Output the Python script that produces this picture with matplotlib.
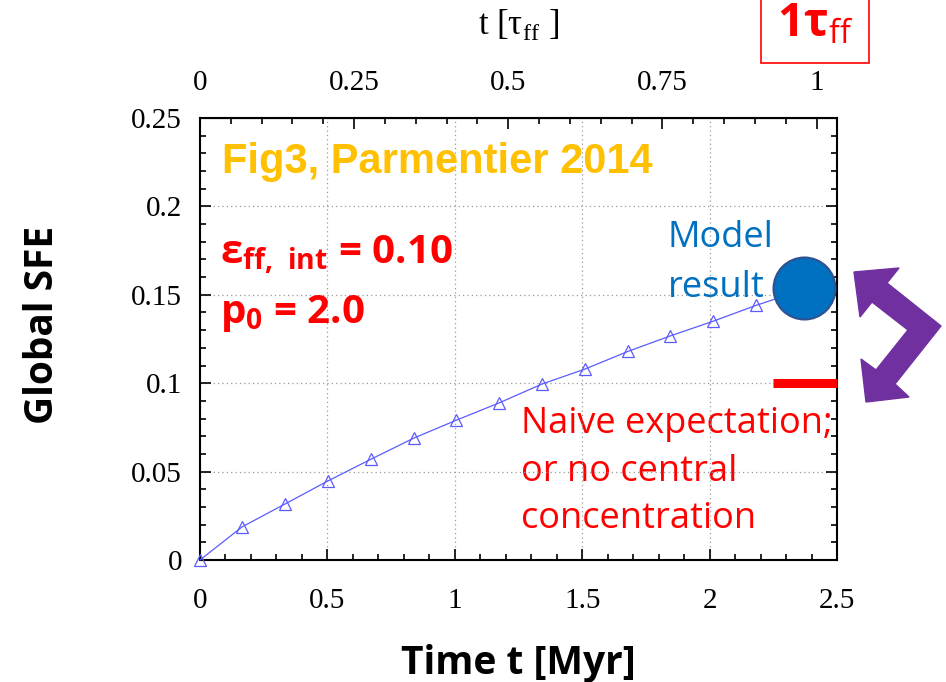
import matplotlib.pyplot as plt
from matplotlib.patches import Polygon
from matplotlib.ticker import MultipleLocator

plt.rcParams['mathtext.fontset'] = 'custom'
plt.rcParams['mathtext.rm'] = 'Liberation Serif'
plt.rcParams['mathtext.sf'] = 'Open Sans'
plt.rcParams['mathtext.bf'] = 'Open Sans:bold'

# data
time_myr = [0.0, 0.165, 0.334, 0.502, 0.671, 0.84, 1.005, 1.173, 1.342, 1.511,
            1.68, 1.845, 2.013, 2.182, 2.35]
global_sfe = [0.0, 0.0187, 0.0317, 0.0447, 0.057, 0.069, 0.079, 0.0888, 0.0995,
              0.108, 0.118, 0.1267, 0.135, 0.144, 0.152]
model_t = [2.37]
model_sfe = [0.154]
naive_t = [2.25, 2.5]
naive_sfe = [0.1, 0.1]
TAU_FF = 2.42
xticks = [0, 0.5, 1, 1.5, 2, 2.5]
xticklabels = ['0', '0.5', '1', '1.5', '2', '2.5']
yticks = [0, 0.05, 0.1, 0.15, 0.2, 0.25]
yticklabels = ['0', '0.05', '0.1', '0.15', '0.2', '0.25']
top_ticks = [0, 0.25, 0.5, 0.75, 1]
top_labels = ['0', '0.25', '0.5', '0.75', '1']


def main():
    fig = plt.figure(figsize=(9.46, 6.82), dpi=100)
    ax = fig.add_axes([0.2114, 0.1789, 0.6734, 0.6481])
    ax.set_xlim(0, 2.5)
    ax.set_ylim(0, 0.25)

    ax.plot(time_myr, global_sfe, color='#5b5bff', lw=0.9, marker='^',
            mfc='none', mec='#5b5bff', ms=8, mew=0.9, clip_on=False, zorder=3)
    ax.scatter(model_t, model_sfe, s=1990, color='#0070C0', edgecolor='#2F528F',
               linewidth=1.5, zorder=5, clip_on=False)
    ax.plot(naive_t, naive_sfe, color='red', lw=6.5, solid_capstyle='butt',
            clip_on=False, zorder=5)

    ax.set_xticks(xticks)
    ax.set_xticklabels(xticklabels, family='Liberation Serif', fontsize=21)
    ax.set_yticks(yticks)
    ax.set_yticklabels(yticklabels, family='Liberation Serif', fontsize=21)
    ax.xaxis.set_minor_locator(MultipleLocator(0.1))
    ax.yaxis.set_minor_locator(MultipleLocator(0.01))
    ax.tick_params(which='both', direction='in', top=False, right=True, width=1.2)
    ax.tick_params(which='major', length=8)
    ax.tick_params(which='minor', length=4)
    ax.tick_params(axis='x', pad=20)
    ax.tick_params(axis='y', pad=13)
    for s in ax.spines.values():
        s.set_linewidth(1.5)
    ax.grid(True, which='major', color='#999999', lw=0.9, ls=(0, (1, 2.5)))

    top = ax.secondary_xaxis('top', functions=(lambda x: x / TAU_FF, lambda x: x * TAU_FF))
    top.set_xticks(top_ticks)
    top.set_xticklabels(top_labels, family='Liberation Serif', fontsize=21)
    top.xaxis.set_minor_locator(MultipleLocator(0.05))
    top.tick_params(which='both', direction='in', width=1.2, pad=16)
    top.tick_params(which='major', length=8)
    top.tick_params(which='minor', length=4)
    top.set_xlabel(r't [τ$_{\mathrm{ff}}$ ]', family='Liberation Serif', fontsize=25,
                   labelpad=26)

    ax.set_xlabel('Time t [Myr]', family='Open Sans', weight='bold', fontsize=28,
                  labelpad=22)
    ax.set_ylabel('Global SFE', family='Open Sans', weight='bold', fontsize=28)
    ax.yaxis.set_label_coords(-0.217, 0.532)

    ax.text(0.086, 0.225, 'Fig3, Parmentier 2014', color='#FFC000', family='Liberation Sans',
            weight='bold', fontsize=30, va='center', ha='left')
    ax.text(0.08, 0.1674, r'$\mathbf{ε}_{\mathbf{ff,\ int}}$ = 0.10', color='red',
            family='Open Sans', weight='bold', fontsize=29, va='baseline', ha='left')
    ax.text(0.08, 0.134, r'$\mathbf{p}_{\mathbf{0}}$ = 2.0', color='red',
            family='Open Sans', weight='bold', fontsize=29, va='baseline', ha='left')
    ax.text(1.835, 0.168, 'Model\nresult', color='#0070C0', family='Open Sans',
            fontsize=26, va='center', ha='left', linespacing=1.52)
    ax.text(1.26, 0.050, 'Naive expectation;\nor no central\nconcentration', color='red',
            family='Open Sans', fontsize=26, va='center', ha='left', linespacing=1.43,
            zorder=1)

    fig.text(815 / 946, 1 - 24 / 682, r'$\mathbf{1τ}_{\mathsf{ff}}$', color='red',
             family='Open Sans', fontsize=33, ha='center', va='center',
             bbox=dict(boxstyle='square,pad=0.35', fc='white', ec='red', lw=1.2))

    arrow_px = [(854, 272), (899, 268), (887, 283), (941, 326), (895, 384),
                (909, 397), (866, 402), (861, 359), (876, 370), (908, 330),
                (872, 302), (860, 317)]
    arrow = Polygon([(x / 946, 1 - y / 682) for x, y in arrow_px], closed=True,
                    transform=fig.transFigure, color='#7030A0')
    fig.patches.append(arrow)

    fig.savefig('out.png', dpi=100)


if __name__ == "__main__":
    main()
